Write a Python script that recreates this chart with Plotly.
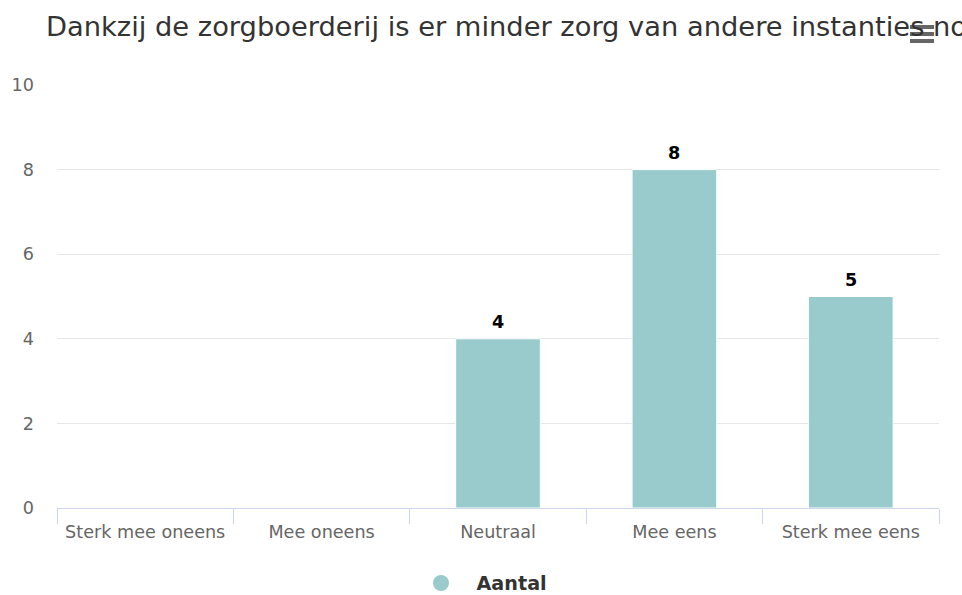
import plotly.graph_objects as go

# Survey answers and counts
categories = ["Sterk mee oneens", "Mee oneens", "Neutraal", "Mee eens", "Sterk mee eens"]
counts = [0, 0, 4, 8, 5]
series_name = "Aantal"
title_text = "Dankzij de zorgboerderij is er minder zorg van andere instanties nodig"
y_ticks = [0, 2, 4, 6, 8, 10]

BAR_COLOR = "#99cbcc"
FONT = "DejaVu Sans"

fig = go.Figure()

fig.add_trace(go.Bar(
    x=categories,
    y=counts,
    width=0.48,
    marker=dict(color=BAR_COLOR, line=dict(color="#ffffff", width=1)),
    showlegend=False,
    hoverinfo="x+y",
))

# Legend entry with a round symbol
fig.add_trace(go.Scatter(
    x=[None], y=[None], mode="markers", name=series_name,
    marker=dict(symbol="circle", size=20, color=BAR_COLOR),
))

# Value labels above non-empty bars
for cat, val in zip(categories, counts):
    if val:
        fig.add_annotation(
            x=cat, y=val, text=f"<b>{val}</b>", showarrow=False,
            yanchor="bottom", yshift=5,
            font=dict(family=FONT, size=17.6, color="#000000"),
        )

# Hamburger menu icon
for py in (27, 34, 41):
    yp = (508 - py) / 423
    fig.add_shape(
        type="line", xref="paper", yref="paper",
        x0=(910 - 57) / 882, x1=(934 - 57) / 882, y0=yp, y1=yp,
        line=dict(color="#666666", width=4),
    )

fig.update_layout(
    width=962, height=595,
    margin=dict(l=57, r=23, t=85, b=87),
    paper_bgcolor="#ffffff", plot_bgcolor="#ffffff",
    font=dict(family=FONT, size=17.6, color="#666666"),
    title=dict(
        text=title_text, xref="container", yref="container",
        x=46 / 962, xanchor="left", y=1 - 26 / 595, yanchor="middle",
        font=dict(family=FONT, size=27.3, color="#333333"),
    ),
    bargap=0.52,
    showlegend=True,
    legend=dict(
        orientation="h", xref="container", yref="container",
        x=0.5 - 2 / 962, xanchor="center", y=1 - 583 / 595, yanchor="middle",
        font=dict(family=FONT, size=19.2, color="#333333", weight="bold"),
        itemwidth=61,
    ),
    xaxis=dict(
        type="category",
        categoryorder="array", categoryarray=categories,
        showline=True, linecolor="#ccd6eb", linewidth=1,
        ticks="outside", tickson="boundaries", ticklen=15, tickcolor="#ccd6eb",
        ticklabelstandoff=8,
        showgrid=False,
        tickfont=dict(family=FONT, size=17.6, color="#666666"),
        fixedrange=True,
    ),
    yaxis=dict(
        range=[0, 10], tickvals=y_ticks,
        showgrid=True, gridcolor="#e6e6e6", gridwidth=1,
        zeroline=False, showline=False,
        ticklabelstandoff=22,
        tickfont=dict(family=FONT, size=17.6, color="#666666"),
        fixedrange=True,
    ),
    hovermode="closest",
)

fig.write_html("out.html", config={"displayModeBar": False})
